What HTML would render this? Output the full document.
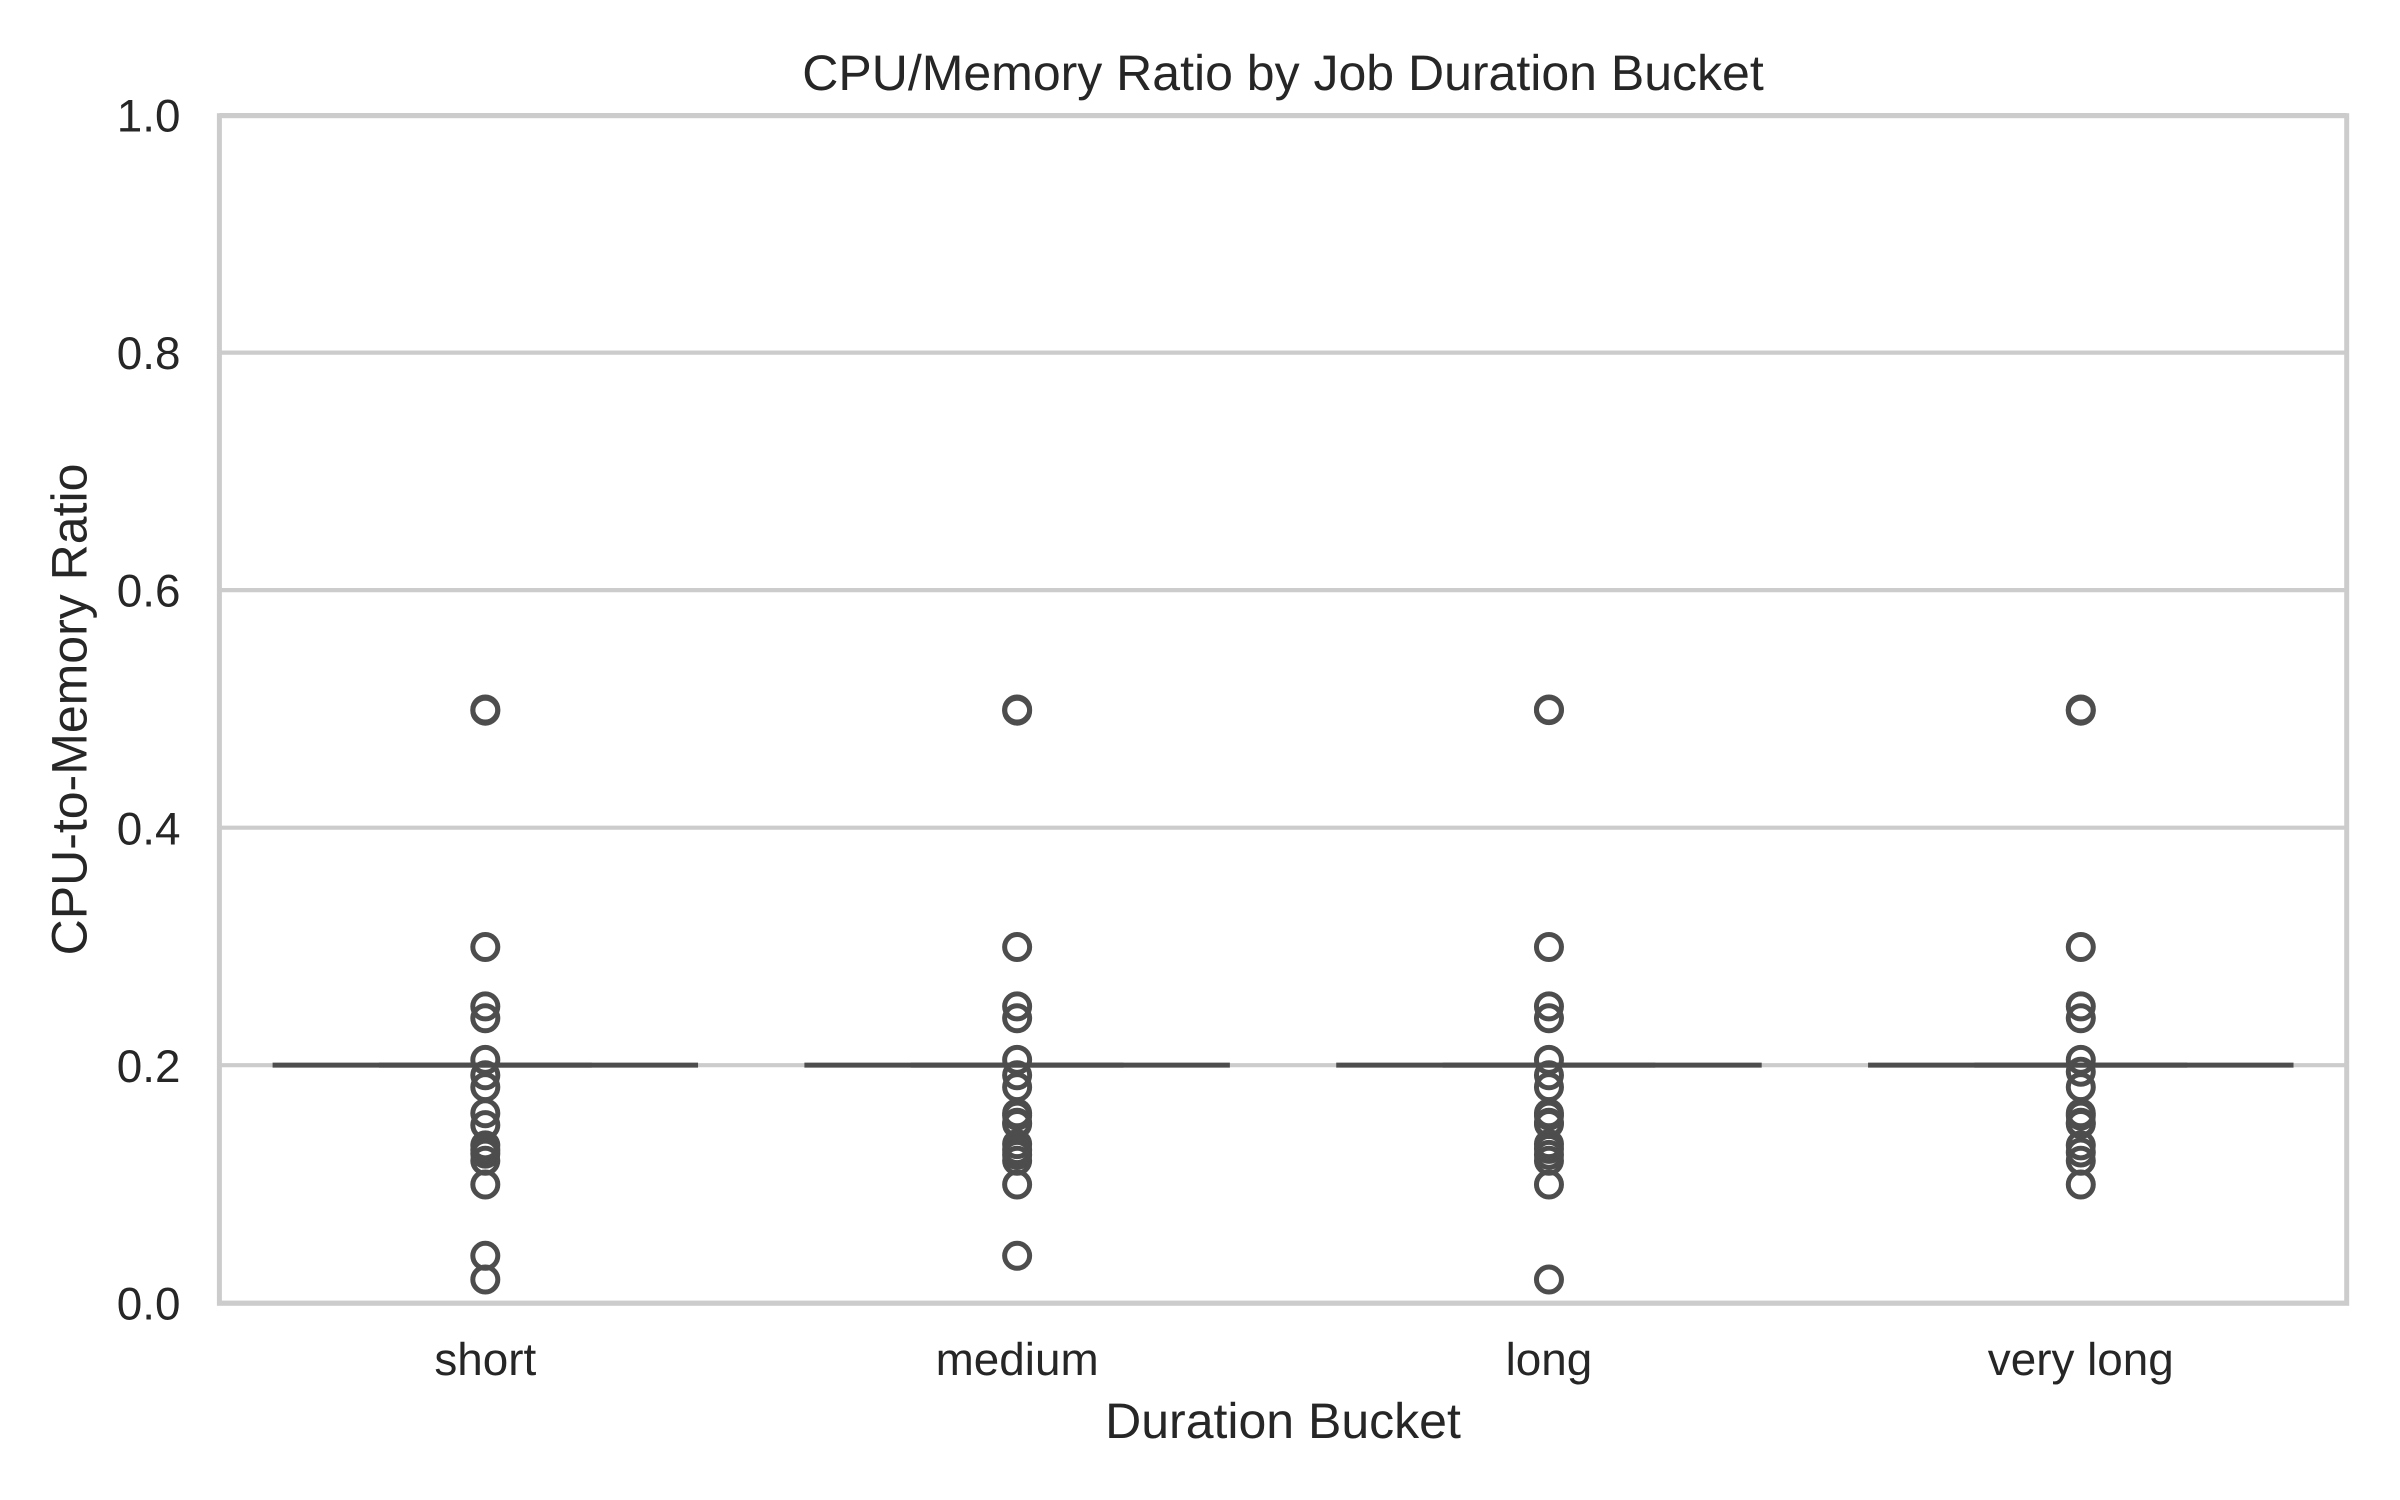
<!DOCTYPE html>
<html lang="en">
<head>
<meta charset="utf-8">
<title>CPU/Memory Ratio by Job Duration Bucket</title>
<style>
  html, body { margin: 0; padding: 0; background: #ffffff; }
  body { width: 2400px; height: 1500px; overflow: hidden; }
  svg { display: block; }
  text { font-family: "Liberation Sans", Arial, sans-serif; fill: #262626; text-rendering: geometricPrecision; }
</style>
</head>
<body>
<svg id="chart" xmlns="http://www.w3.org/2000/svg" width="2400" height="1500" viewBox="0 0 2400 1500">
  <rect x="0" y="0" width="2400" height="1500" fill="#ffffff"></rect>
  <g id="grid"></g>
  <g id="boxes"></g>
  <g id="fliers"></g>
  <rect x="219.4" y="115.7" width="2127.3" height="1187.6" fill="none" stroke="#cccccc" stroke-width="5"></rect>
  <g id="yticks"></g>
  <g id="xticks"></g>
  <text x="1283" y="90" font-size="50" text-anchor="middle">CPU/Memory Ratio by Job Duration Bucket</text>
  <text x="1283" y="1438" font-size="50" text-anchor="middle">Duration Bucket</text>
  <text x="0" y="0" font-size="50" text-anchor="middle" transform="translate(86.7 709.5) rotate(-90)">CPU-to-Memory Ratio</text>
</svg>
<script>
const categories = ['short', 'medium', 'long', 'very long'];
const yTicks = [0, 0.2, 0.4, 0.6, 0.8, 1];
const yTickLabels = ['0.0', '0.2', '0.4', '0.6', '0.8', '1.0'];
const medians = [0.2, 0.2, 0.2, 0.2];
const outliersShort = [0.5, 0.499, 0.3, 0.25, 0.24, 0.205, 0.192, 0.182, 0.16, 0.15, 0.133, 0.129, 0.126, 0.12, 0.1, 0.04, 0.02];
const outliersMedium = [0.5, 0.499, 0.3, 0.25, 0.24, 0.205, 0.192, 0.182, 0.16, 0.158, 0.152, 0.151, 0.134, 0.129, 0.125, 0.12, 0.1, 0.04];
const outliersLong = [0.5, 0.4995, 0.3, 0.25, 0.24, 0.205, 0.192, 0.182, 0.16, 0.158, 0.152, 0.151, 0.134, 0.13, 0.125, 0.12, 0.1, 0.02];
const outliersVeryLong = [0.5, 0.499, 0.3, 0.25, 0.24, 0.205, 0.195, 0.182, 0.16, 0.158, 0.152, 0.151, 0.133, 0.127, 0.12, 0.1];

const plotLeft = 219.4, plotRight = 2346.7, plotTop = 115.7, plotBottom = 1303.3;
const lineSnap = -0.6;
const band = (plotRight - plotLeft) / categories.length;
const yScale = v => plotBottom - v * (plotBottom - plotTop);
const xScale = i => plotLeft + band * (i + 0.5);
const NS = 'http://www.w3.org/2000/svg';
const seriesOutliers = [outliersShort, outliersMedium, outliersLong, outliersVeryLong];

const lineEl = (x1, y1, x2, y2, color, width) => {
  const l = document.createElementNS(NS, 'line');
  l.setAttribute('x1', x1);
  l.setAttribute('y1', y1);
  l.setAttribute('x2', x2);
  l.setAttribute('y2', y2);
  l.setAttribute('stroke', color);
  l.setAttribute('stroke-width', width);
  return l;
};

const gridG = document.getElementById('grid');
const yTickG = document.getElementById('yticks');
yTicks.forEach((v, i) => {
  const gy = yScale(v) + lineSnap;
  const g = lineEl(plotLeft, gy, plotRight, gy, '#cccccc', 4.17);
  
  
  gridG.appendChild(g);
  const t = document.createElementNS(NS, 'text');
  
  
  t.setAttribute('x', 180.5);
  t.setAttribute('y', yScale(v) + 16);
  t.setAttribute('font-size', 45.83);
  t.setAttribute('text-anchor', 'end');
  t.textContent = yTickLabels[i];
  yTickG.appendChild(t);
});

const boxG = document.getElementById('boxes');
const flierG = document.getElementById('fliers');
const xTickG = document.getElementById('xticks');
categories.forEach((c, i) => {
  const cx = xScale(i);
  const y = yScale(medians[i]) + lineSnap;
  const box = lineEl(cx - band * 0.4, y, cx + band * 0.4, y, '#4d4d4d', 5);
  
  
  boxG.appendChild(box);
  const cap = lineEl(cx - band * 0.2, y, cx + band * 0.2, y, '#4d4d4d', 5);
  
  
  boxG.appendChild(cap);
  seriesOutliers[i].forEach(v => {
    const p = document.createElementNS(NS, 'circle');
    
    
    p.setAttribute('cx', cx);
    p.setAttribute('cy', yScale(v));
    p.setAttribute('r', 12.5);
    p.setAttribute('fill', 'none');
    p.setAttribute('stroke', '#4d4d4d');
    p.setAttribute('stroke-width', 5);
    flierG.appendChild(p);
  });
  const t = document.createElementNS(NS, 'text');
  
  
  t.setAttribute('x', cx);
  t.setAttribute('y', 1375);
  t.setAttribute('font-size', 45.83);
  t.setAttribute('text-anchor', 'middle');
  t.textContent = c;
  xTickG.appendChild(t);
});
</script>
</body>
</html>
